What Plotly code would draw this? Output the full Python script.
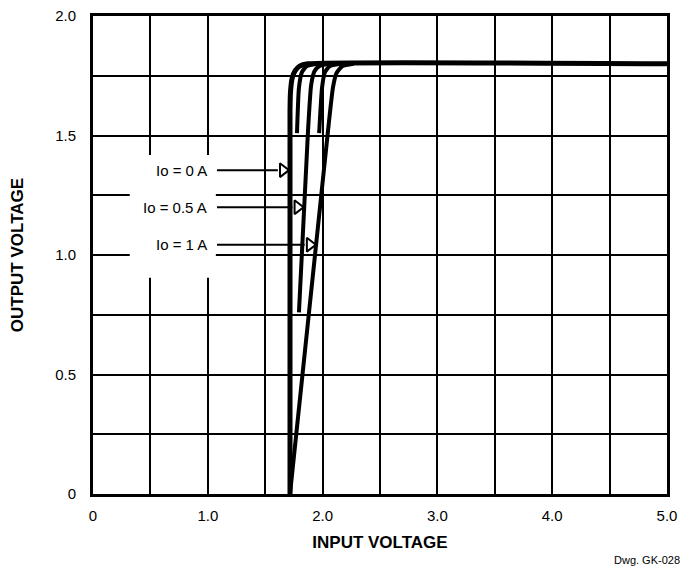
import plotly.graph_objects as go

# ---- data ----
curve0_x = [1.716, 1.716, 1.72, 1.735, 1.76, 1.80, 1.87, 5.0]
curve0_y = [0.0, 1.60, 1.68, 1.74, 1.77, 1.79, 1.80, 1.80]

curve025_x = [1.777, 1.794, 1.82, 1.86, 1.95]
curve025_y = [1.51, 1.70, 1.765, 1.79, 1.80]

curve05_x = [1.794, 1.873, 1.90, 1.93, 1.97, 2.05]
curve05_y = [0.76, 1.52, 1.71, 1.77, 1.79, 1.80]

curve075_x = [1.97, 1.995, 2.02, 2.06, 2.15]
curve075_y = [1.51, 1.70, 1.765, 1.79, 1.80]

curve1_x = [1.716, 2.047, 2.09, 2.12, 2.17, 2.27]
curve1_y = [0.0, 1.52, 1.70, 1.76, 1.79, 1.80]

io_labels = ["Io = 0 A", "Io = 0.5 A", "Io = 1 A"]
label_y = [1.355, 1.20, 1.043]
arrow_tip_x = [1.70, 1.827, 1.934]
label_text_x = 1.01
arrow_start_x = 1.08

x_tick_vals = [0, 1, 2, 3, 4, 5]
x_tick_text = ["0", "1.0", "2.0", "3.0", "4.0", "5.0"]
y_tick_vals = [0, 0.5, 1.0, 1.5, 2.0]
y_tick_text = ["0", "0.5", "1.0", "1.5", "2.0"]

FONT = "Liberation Sans, Arial, sans-serif"

fig = go.Figure()

for cx, cy, w in [(curve0_x, curve0_y, 5), (curve025_x, curve025_y, 4),
                  (curve05_x, curve05_y, 4), (curve075_x, curve075_y, 4),
                  (curve1_x, curve1_y, 4)]:
    fig.add_trace(go.Scatter(x=cx, y=cy, mode="lines",
                             line=dict(color="black", width=w, shape="spline", smoothing=0.5),
                             hoverinfo="skip", showlegend=False))

# arrows
tri_len = 0.09  # in data units along x
for lab, ly, tx in zip(io_labels, label_y, arrow_tip_x):
    fig.add_trace(go.Scatter(x=[arrow_start_x, tx - tri_len], y=[ly, ly], mode="lines",
                             line=dict(color="black", width=2), hoverinfo="skip", showlegend=False))
    fig.add_trace(go.Scatter(x=[tx - tri_len / 2], y=[ly], mode="markers",
                             marker=dict(symbol="triangle-right-open", size=12,
                                         color="black", line=dict(width=2, color="black")),
                             hoverinfo="skip", showlegend=False))
    fig.add_annotation(x=label_text_x, y=ly, text=lab, showarrow=False,
                       xanchor="right", yanchor="middle",
                       font=dict(family=FONT, size=15, color="black"))

# white box behind labels
fig.add_shape(type="rect", x0=0.32, x1=1.07, y0=0.905, y1=1.418,
              fillcolor="white", line=dict(width=0), layer="above")

fig.update_xaxes(range=[0, 5], tickvals=x_tick_vals, ticktext=x_tick_text,
                 showgrid=True, gridcolor="black", gridwidth=2,
                 minor=dict(dtick=0.5, showgrid=True, gridcolor="black", gridwidth=2),
                 showline=True, linecolor="black", linewidth=3, mirror=True,
                 ticks="", ticklabelstandoff=6, zeroline=False,
                 ticklabeloverflow="allow",
                 tickfont=dict(family=FONT, size=15, color="black"),
                 title=dict(text="<b>INPUT VOLTAGE</b>", standoff=14,
                            font=dict(family=FONT, size=17, color="black")))
fig.update_yaxes(range=[0, 2], tickvals=y_tick_vals, ticktext=y_tick_text,
                 showgrid=True, gridcolor="black", gridwidth=2,
                 minor=dict(dtick=0.25, showgrid=True, gridcolor="black", gridwidth=2),
                 showline=True, linecolor="black", linewidth=3, mirror=True,
                 ticks="", ticklabelstandoff=11, zeroline=False,
                 ticklabeloverflow="allow",
                 tickfont=dict(family=FONT, size=15, color="black"),
                 title=dict(text="<b>OUTPUT VOLTAGE</b>", standoff=28,
                            font=dict(family=FONT, size=17, color="black")))

fig.add_annotation(xref="paper", yref="paper", x=1.026, y=-0.138, text="Dwg. GK-028",
                   showarrow=False, xanchor="right", yanchor="middle",
                   font=dict(family=FONT, size=11, color="black"))

fig.update_layout(width=686, height=564, plot_bgcolor="white", paper_bgcolor="white",
                  margin=dict(l=85, r=27, t=8, b=78, autoexpand=False))

fig.write_html("out.html")
